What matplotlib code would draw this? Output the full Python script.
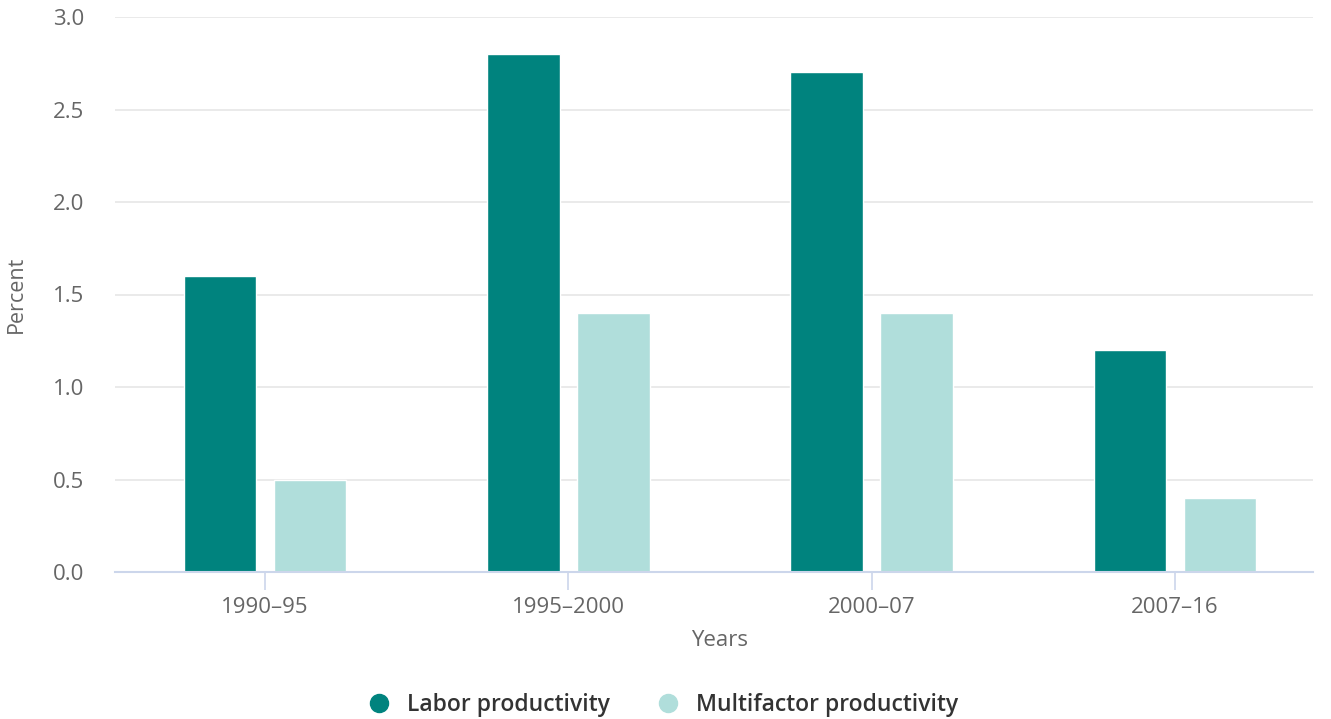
import matplotlib
matplotlib.use('Agg')
import matplotlib.pyplot as plt
from matplotlib.lines import Line2D
import numpy as np

# data
periods = ['1990–95', '1995–2000', '2000–07', '2007–16']
labor = [1.6, 2.8, 2.7, 1.2]
multifactor = [0.5, 1.4, 1.4, 0.4]

plt.rcParams['font.family'] = ['Open Sans', 'DejaVu Sans']

fig = plt.figure(figsize=(13.31, 7.19), dpi=100)
ax = fig.add_axes([115 / 1331, 1 - 572 / 719, (1313 - 115) / 1331, (572 - 17) / 719])

x = np.arange(len(periods))
ax.bar(x - 0.1485, labor, width=0.24, color='#00837e', edgecolor='white', linewidth=1, zorder=3)
ax.bar(x + 0.1485, multifactor, width=0.24, color='#b0dedb', edgecolor='white', linewidth=1, zorder=3)

ax.set_xlim(-0.4946, 3.455)
ax.set_ylim(0, 3.0)
ax.set_yticks(np.arange(0, 3.01, 0.5))
ax.set_yticklabels([f'{v:.1f}' for v in np.arange(0, 3.01, 0.5)])
ax.set_xticks(x)
ax.set_xticklabels(periods)

ax.grid(axis='y', color='#e6e6e6', linewidth=1.2, zorder=0)
for s in ['top', 'right', 'left']:
    ax.spines[s].set_visible(False)
ax.spines['bottom'].set_color('#ccd6eb')
ax.spines['bottom'].set_linewidth(1.5)
ax.spines['bottom'].set_zorder(4)

ax.tick_params(axis='y', length=0, labelsize=16, labelcolor='#666666', pad=22)
ax.tick_params(axis='x', length=13, color='#ccd6eb', width=1.2, labelsize=16,
               labelcolor='#666666', pad=5)

ax.set_ylabel('Percent', fontsize=15.5, color='#666666', labelpad=19)
ax.set_xlabel('Years', fontsize=16, color='#666666', labelpad=9)
ax.xaxis.label.set_x((720 - 115) / 1198)

handles = [
    Line2D([], [], marker='o', linestyle='', markersize=13, color='#00837e'),
    Line2D([], [], marker='o', linestyle='', markersize=13, color='#b0dedb'),
]
fig.legend(handles, ['Labor productivity', 'Multifactor productivity'],
           loc='center', bbox_to_anchor=(0.498, 1 - 705 / 719), ncol=2, frameon=False,
           prop={'size': 16.5, 'weight': 'semibold'}, labelcolor='#333333',
           handlelength=1.0, handletextpad=0.75, columnspacing=2.0)

plt.savefig('out.png', dpi=100)
